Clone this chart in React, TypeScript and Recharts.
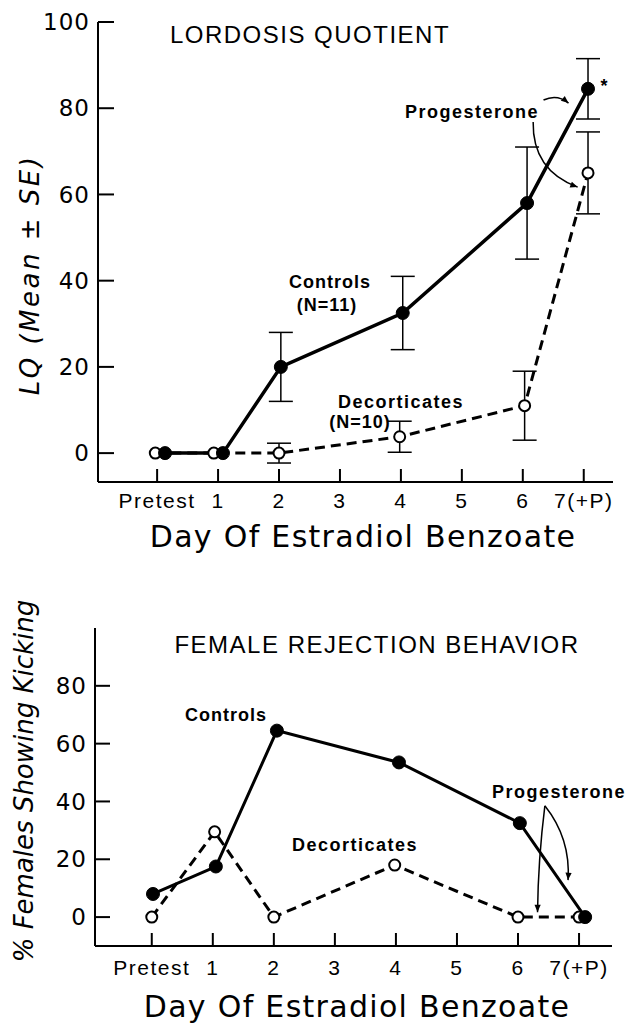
import React from "react";
import {
  LineChart,
  Line,
  XAxis,
  YAxis,
  ErrorBar,
  ReferenceLine,
} from "recharts";

// Day of estradiol benzoate (Pretest = 0)
const dayTicks = [0, 1, 2, 3, 4, 5, 6, 7];
const dayLabels = ["Pretest", "1", "2", "3", "4", "5", "6", "7(+P)"];

// Lordosis quotient (mean ± SE)
const lqTicks = [0, 20, 40, 60, 80, 100];
const lqControlsDay = [0.13, 1.08, 2.03, 4.03, 6.07, 7.07];
const lqControlsMean = [0, 0, 20, 32.5, 58, 84.5];
const lqControlsSE = [null, null, 8, 8.5, 13, 7];
const lqDecortDay = [-0.03, 0.93, 2, 3.98, 6.03, 7.07];
const lqDecortMean = [0, 0, 0, 3.8, 11, 65];
const lqDecortSE = [null, null, 2.3, 3.6, 8, 9.5];

// % females showing kicking
const kickTicks = [0, 20, 40, 60, 80];
const kickControlsDay = [0.02, 1.05, 2.05, 4.05, 6.03, 7.1];
const kickControlsPct = [8, 17.5, 64.5, 53.5, 32.5, 0];
const kickDecortDay = [0, 1.03, 2, 3.98, 6, 7];
const kickDecortPct = [0, 29.5, 0, 18, 0, 0];

// "Progesterone" arrows, in chart units: [fromDay, fromValue, toDay, toValue]
const lqArrows = [
  [6.34, 81.9, 6.75, 81.2],
  [6.17, 76.8, 6.9, 61.7],
];
const lqArrowBends = [-8, 28];
const kickArrows = [
  [6.44, 38.5, 6.32, 1.7],
  [6.44, 38.5, 6.82, 12.8],
];
const kickArrowBends = [3, -15];

const toPoints = (xs: number[], ys: number[], se?: (number | null)[]) =>
  xs.map((x, i) => ({ x, y: ys[i], se: se ? se[i] : null }));

const SANS = "'Liberation Sans', Arial, sans-serif";
const WIDE = "'DejaVu Sans', sans-serif";

const filledDot = { r: 6.5, fill: "#000", stroke: "#000", strokeWidth: 1, strokeDasharray: "none" };
const openDot = { r: 5.5, fill: "#fff", stroke: "#000", strokeWidth: 2, strokeDasharray: "none" };

// curved annotation arrow drawn between the two ends of a reference segment
const CurvedArrow = (props: any) => {
  const { x1, y1, x2, y2, bend = 0 } = props;
  if ([x1, y1, x2, y2].some((v) => v == null || isNaN(v))) return <g />;
  const dx = x2 - x1;
  const dy = y2 - y1;
  const len = Math.hypot(dx, dy) || 1;
  const cx = (x1 + x2) / 2 + (-dy / len) * bend;
  const cy = (y1 + y2) / 2 + (dx / len) * bend;
  const ang = Math.atan2(y2 - cy, x2 - cx);
  const h = 8;
  const p1 = [x2 - h * Math.cos(ang - 0.4), y2 - h * Math.sin(ang - 0.4)];
  const p2 = [x2 - h * Math.cos(ang + 0.4), y2 - h * Math.sin(ang + 0.4)];
  return (
    <g>
      <path
        d={`M${x1},${y1} Q${cx},${cy} ${x2},${y2}`}
        fill="none"
        stroke="#000"
        strokeWidth={1.5}
      />
      <polygon points={`${x2},${y2} ${p1[0]},${p1[1]} ${p2[0]},${p2[1]}`} fill="#000" />
    </g>
  );
};

const Note = ({
  x,
  y,
  size,
  bold,
  italic,
  rotate,
  family = SANS,
  spacing = 0,
  children,
}: any) => (
  <div
    style={{
      position: "absolute",
      left: x,
      top: y,
      transform: `translate(-50%, -50%)${rotate ? " rotate(-90deg)" : ""}`,
      fontSize: size,
      fontWeight: bold ? 700 : 400,
      fontStyle: italic ? "italic" : "normal",
      fontFamily: family,
      letterSpacing: spacing,
      whiteSpace: "nowrap",
      lineHeight: 1,
      color: "#000",
    }}
  >
    {children}
  </div>
);

const xTick = { fontSize: 21, fontFamily: SANS, fill: "#000", letterSpacing: 1.5 };
const yTick = { fontSize: 23, fontFamily: WIDE, fill: "#000", letterSpacing: 1 };
const axisLine = { stroke: "#000", strokeWidth: 2 };
const tickLine = { stroke: "#000", strokeWidth: 2 };

export default function App() {
  const lqControls = toPoints(lqControlsDay, lqControlsMean, lqControlsSE);
  const lqDecort = toPoints(lqDecortDay, lqDecortMean, lqDecortSE);
  const kickControls = toPoints(kickControlsDay, kickControlsPct);
  const kickDecort = toPoints(kickDecortDay, kickDecortPct);

  return (
    <div
      style={{
        position: "absolute",
        left: 0,
        top: 0,
        width: 635,
        height: 1026,
        background: "#fff",
        overflow: "hidden",
      }}
    >
      {/* Lordosis quotient */}
      <div style={{ position: "absolute", left: 0, top: 0 }}>
        <LineChart
          width={635}
          height={560}
          margin={{ top: 22, right: 22, bottom: 0, left: 0 }}
        >
          <XAxis
            type="number"
            dataKey="x"
            domain={[-0.97, 7.48]}
            ticks={dayTicks}
            tickFormatter={(v) => dayLabels[v]}
            interval={0}
            height={78}
            tickSize={-13}
            tickMargin={24}
            tick={xTick}
            axisLine={axisLine}
            tickLine={tickLine}
            allowDataOverflow
          />
          <YAxis
            type="number"
            domain={[-6.7, 100]}
            ticks={lqTicks}
            interval={0}
            width={98}
            tickSize={-16}
            tickMargin={24}
            tick={yTick}
            axisLine={axisLine}
            tickLine={tickLine}
            allowDataOverflow
          />
          <Line
            data={lqDecort}
            dataKey="y"
            type="linear"
            stroke="#000"
            strokeWidth={3}
            strokeDasharray="10 6"
            dot={openDot}
            activeDot={false}
            isAnimationActive={false}
          >
            <ErrorBar dataKey="se" direction="y" width={12} stroke="#000" strokeWidth={1.5} />
          </Line>
          <Line
            data={lqControls}
            dataKey="y"
            type="linear"
            stroke="#000"
            strokeWidth={3.5}
            dot={filledDot}
            activeDot={false}
            isAnimationActive={false}
          >
            <ErrorBar dataKey="se" direction="y" width={12} stroke="#000" strokeWidth={1.5} />
          </Line>
          {lqArrows.map((a, i) => (
            <ReferenceLine
              key={i}
              segment={[
                { x: a[0], y: a[1] },
                { x: a[2], y: a[3] },
              ]}
              ifOverflow="visible"
              shape={(p: any) => <CurvedArrow {...p} bend={lqArrowBends[i]} />}
            />
          ))}
        </LineChart>
      </div>

      <Note x={310} y={35} size={24} spacing={1.5}>LORDOSIS QUOTIENT</Note>
      <Note x={30} y={275} size={26} italic rotate family={WIDE} spacing={2.5}>
        LQ (Mean ± SE)
      </Note>
      <Note x={363} y={537} size={30} family={WIDE} spacing={1.3}>
        Day Of Estradiol Benzoate
      </Note>
      <Note x={330} y={282} size={18} bold spacing={1}>Controls</Note>
      <Note x={327} y={305} size={18} bold spacing={1}>(N=11)</Note>
      <Note x={401} y={402} size={18} bold spacing={1.5}>Decorticates</Note>
      <Note x={360} y={422} size={18} bold spacing={1}>(N=10)</Note>
      <Note x={472} y={112} size={18} bold spacing={1.5}>Progesterone</Note>
      <Note x={604} y={86} size={18} bold>*</Note>

      {/* Female rejection behavior */}
      <div style={{ position: "absolute", left: 0, top: 560 }}>
        <LineChart
          width={635}
          height={466}
          margin={{ top: 68, right: 23, bottom: 0, left: 0 }}
        >
          <XAxis
            type="number"
            dataKey="x"
            domain={[-0.93, 7.54]}
            ticks={dayTicks}
            tickFormatter={(v) => dayLabels[v]}
            interval={0}
            height={80}
            tickSize={-13}
            tickMargin={27}
            tick={xTick}
            axisLine={axisLine}
            tickLine={tickLine}
            allowDataOverflow
          />
          <YAxis
            type="number"
            domain={[-10, 100]}
            ticks={kickTicks}
            interval={0}
            width={95}
            tickSize={-15}
            tickMargin={23}
            tick={yTick}
            axisLine={axisLine}
            tickLine={tickLine}
            allowDataOverflow
          />
          <Line
            data={kickDecort}
            dataKey="y"
            type="linear"
            stroke="#000"
            strokeWidth={3}
            strokeDasharray="10 6"
            dot={openDot}
            activeDot={false}
            isAnimationActive={false}
          />
          <Line
            data={kickControls}
            dataKey="y"
            type="linear"
            stroke="#000"
            strokeWidth={3}
            dot={filledDot}
            activeDot={false}
            isAnimationActive={false}
          />
          {kickArrows.map((a, i) => (
            <ReferenceLine
              key={i}
              segment={[
                { x: a[0], y: a[1] },
                { x: a[2], y: a[3] },
              ]}
              ifOverflow="visible"
              shape={(p: any) => <CurvedArrow {...p} bend={kickArrowBends[i]} />}
            />
          ))}
        </LineChart>
      </div>

      <Note x={377} y={645} size={24} spacing={1.5}>FEMALE REJECTION BEHAVIOR</Note>
      <Note x={24} y={781} size={26} italic rotate family={WIDE}>
        % Females Showing Kicking
      </Note>
      <Note x={357} y={1007} size={30} family={WIDE} spacing={1.3}>
        Day Of Estradiol Benzoate
      </Note>
      <Note x={226} y={715} size={18} bold spacing={1}>Controls</Note>
      <Note x={355} y={845} size={18} bold spacing={1.5}>Decorticates</Note>
      <Note x={559} y={792} size={18} bold spacing={1.5}>Progesterone</Note>
    </div>
  );
}
